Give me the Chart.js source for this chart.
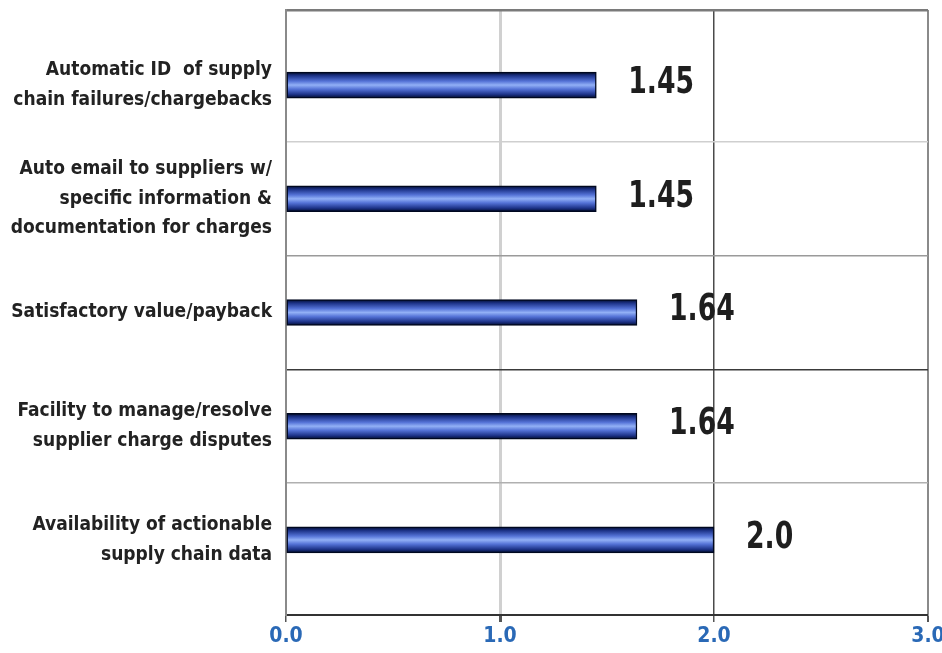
<!DOCTYPE html>
<html>
<head>
<meta charset="utf-8">
<script src="https://cdn.jsdelivr.net/npm/chart.js@4.4.1/dist/chart.umd.min.js"></script>
<style>
  html, body { margin: 0; padding: 0; background: #fff; }
  #wrap { width: 942px; height: 653px; }
</style>
</head>
<body>
<div id="wrap"><canvas id="chart" width="942" height="653"></canvas></div>
<script>
// categories, top to bottom
const categories = [
    ['Automatic ID  of supply', 'chain failures/chargebacks'],
    ['Auto email to suppliers w/', 'specific information &', 'documentation for charges'],
    'Satisfactory value/payback',
    ['Facility to manage/resolve', 'supplier charge disputes'],
    ['Availability of actionable', 'supply chain data']
];

// average score of each item
const scores = [1.45, 1.45, 1.64, 1.64, 2.0];

// value axis ticks
const xTicks = [0, 1, 2, 3];

const narrow = '"Liberation Sans Narrow", "Arial Narrow", "DejaVu Sans Condensed", sans-serif';

// the bands reach a little past the first and last bar
const yMin = -0.66;
const yMax = categories.length - 1 + 0.66;

// one colour per horizontal separator / per vertical grid line
const rowLineColors = ['#7a7a7a', '#cfcfcf', '#9a9a9a', '#3a3a3a', '#b0b0b0'];
const rowLineWidths = [2.5, 1.5, 1.5, 1.5, 1.5];
const colLineColors = ['#8a8a8a', '#d0d0d0', '#4a4a4a', '#8a8a8a'];
const colLineWidths = [1.5, 3, 1.5, 2];

// rounded tube look: dark edges, light stripe in the middle
const tubeFill = (context) => {
    const chart = context.chart;
    const y = chart.scales.y;
    if (!y || context.dataIndex === undefined) {
        return '#4a68c8';
    }
    const mid = y.getPixelForValue(context.dataIndex);
    if (!Number.isFinite(mid)) {
        return '#4a68c8';
    }
    const half = 13;
    const g = chart.ctx.createLinearGradient(0, mid - half, 0, mid + half);
    g.addColorStop(0, '#000a2a');
    g.addColorStop(0.14, '#1d3388');
    g.addColorStop(0.35, '#5472d6');
    g.addColorStop(0.5, '#92b0f6');
    g.addColorStop(0.66, '#5472d6');
    g.addColorStop(0.86, '#1d3388');
    g.addColorStop(1, '#000a2a');
    return g;
};

// writes the score to the right of each bar, squeezed a bit sideways
const valueLabels = {
    id: 'valueLabels',
    afterDatasetsDraw(chart) {
        const ctx = chart.ctx;
        const bars = chart.getDatasetMeta(0).data;
        const squeeze = 0.78;
        bars.forEach((bar, i) => {
            const v = scores[i];
            const text = Number.isInteger(v) ? v.toFixed(1) : String(v);
            ctx.save();
            ctx.translate(bar.x + 32, bar.y - 2);
            ctx.scale(squeeze, 1);
            ctx.font = 'bold 38px ' + narrow;
            ctx.fillStyle = '#1e1e1e';
            ctx.textAlign = 'left';
            ctx.textBaseline = 'middle';
            ctx.fillText(text, 0, 0);
            ctx.restore();
        });
    }
};

// keep tick labels from eating into the plot area
const noLabelPadding = (scale) => {
    scale.paddingTop = 0;
    scale.paddingBottom = 0;
};

new Chart(document.getElementById('chart'), {
    type: 'bar',
    data: {
        datasets: [{
            data: scores.map((v, i) => ({ x: v, y: i })),
            backgroundColor: tubeFill,
            borderColor: '#00081f',
            borderWidth: 1.5,
            borderSkipped: false,
            barThickness: 26
        }]
    },
    plugins: [valueLabels],
    options: {
        indexAxis: 'y',
        responsive: false,
        animation: false,
        layout: { padding: { top: 10, right: 14, bottom: 0, left: 0 } },
        plugins: {
            legend: { display: false },
            tooltip: { enabled: false }
        },
        scales: {
            x: {
                type: 'linear',
                min: 0,
                max: 3,
                afterBuildTicks: (scale) => {
                    scale.ticks = xTicks.map((v) => ({ value: v }));
                },
                afterFit: (scale) => {
                    scale.height = 38;
                    scale.paddingLeft = 0;
                    scale.paddingRight = 14;
                },
                border: { display: true, color: '#333', width: 2 },
                grid: {
                    color: (c) => colLineColors[c.index] || '#888',
                    lineWidth: (c) => colLineWidths[c.index] || 1.5,
                    drawTicks: true,
                    tickLength: 7,
                    tickColor: '#555'
                },
                ticks: {
                    padding: 2,
                    color: '#2a69b6',
                    font: { family: narrow, size: 21, weight: 'bold' },
                    callback: (v) => v.toFixed(1)
                }
            },
            y: {
                type: 'linear',
                min: yMin,
                max: yMax,
                reverse: true,
                offset: false,
                afterBuildTicks: (scale) => {
                    scale.ticks = categories.map((_, i) => ({ value: i }));
                },
                afterFit: (scale) => {
                    scale.width = 286;
                    noLabelPadding(scale);
                },
                border: { display: true, color: '#8a8a8a', width: 2 },
                grid: { display: false, drawTicks: false, offset: false },
                ticks: {
                    padding: 14,
                    color: '#222',
                    font: { family: narrow, size: 19, weight: 'bold', lineHeight: 1.55 },
                    callback: (v) => categories[v]
                }
            },
            rows: {
                type: 'linear',
                axis: 'y',
                position: 'left',
                min: yMin,
                max: yMax,
                reverse: true,
                offset: false,
                afterBuildTicks: (scale) => {
                    const lines = [yMin];
                    for (let i = 0; i < categories.length - 1; i += 1) {
                        lines.push(i + 0.5);
                    }
                    scale.ticks = lines.map((v) => ({ value: v }));
                },
                afterFit: (scale) => {
                    scale.width = 0;
                    noLabelPadding(scale);
                },
                border: { display: false },
                grid: {
                    offset: false,
                    color: (c) => rowLineColors[c.index] || '#999',
                    lineWidth: (c) => rowLineWidths[c.index] || 1.5,
                    drawTicks: false
                },
                ticks: { display: false }
            }
        }
    }
});
</script>
</body>
</html>
